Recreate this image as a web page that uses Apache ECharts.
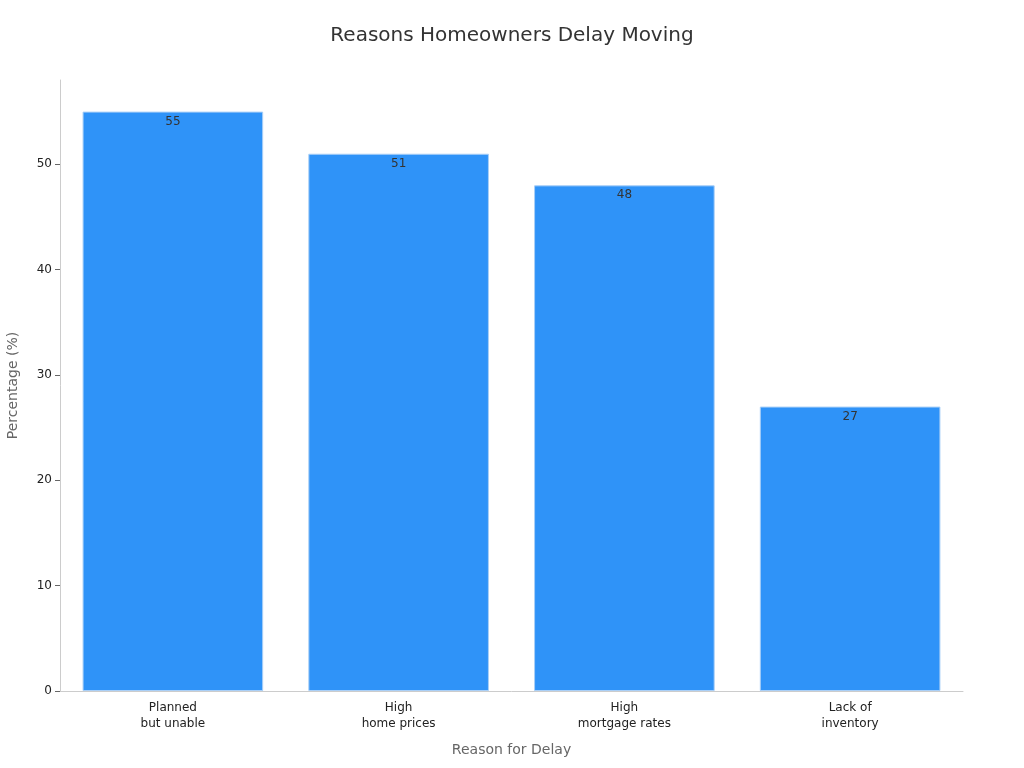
<!DOCTYPE html>
<html>
<head>
<meta charset="utf-8">
<script src="https://cdn.jsdelivr.net/npm/echarts@6/dist/echarts.min.js"></script>
<style>html,body{margin:0;padding:0;}#chart{width:1024px;height:768px;}</style>
</head>
<body>
<div id="chart"></div>
<script>
var categories = ['Planned\nbut unable', 'High\nhome prices', 'High\nmortgage rates', 'Lack of\ninventory'];
var values = [55, 51, 48, 27];
var yTicks = [0, 10, 20, 30, 40, 50];

var chart = echarts.init(document.getElementById('chart'));
chart.setOption({
    textStyle: {fontFamily: 'DejaVu Sans'},
    title: {
        text: 'Reasons Homeowners Delay Moving',
        left: 'center',
        top: 21,
        textStyle: {fontFamily: 'DejaVu Sans', fontSize: 20, fontWeight: 'normal', color: '#333'}
    },
    grid: {left: 60, right: 61, top: 80, bottom: 77, outerBoundsMode: 'none'},
    xAxis: {
        type: 'category',
        data: categories,
        name: 'Reason for Delay',
        nameLocation: 'middle',
        nameGap: 52,
        nameTextStyle: {fontFamily: 'DejaVu Sans', fontSize: 14, color: '#666'},
        axisLine: {lineStyle: {color: '#ccc'}},
        axisTick: {show: false},
        axisLabel: {fontFamily: 'DejaVu Sans', fontSize: 12, color: '#222', lineHeight: 16, margin: 9}
    },
    yAxis: {
        type: 'value',
        min: 0,
        max: 58,
        interval: 10,
        name: 'Percentage (%)',
        nameLocation: 'middle',
        nameGap: 40,
        nameTextStyle: {fontFamily: 'DejaVu Sans', fontSize: 14, color: '#666'},
        axisLine: {show: true, lineStyle: {color: '#ccc'}},
        axisTick: {show: true, customValues: yTicks, lineStyle: {color: '#666'}},
        splitLine: {show: false},
        axisLabel: {fontFamily: 'DejaVu Sans', fontSize: 12, color: '#222', customValues: yTicks}
    },
    series: [{
        type: 'bar',
        data: values,
        barWidth: '80%',
        itemStyle: {color: '#2F93F8', borderColor: '#A9CFF7', borderWidth: 1},
        label: {show: true, position: 'insideTop', distance: 4, color: '#333',
            fontFamily: 'DejaVu Sans', fontSize: 12}
    }]
});
</script>
</body>
</html>
